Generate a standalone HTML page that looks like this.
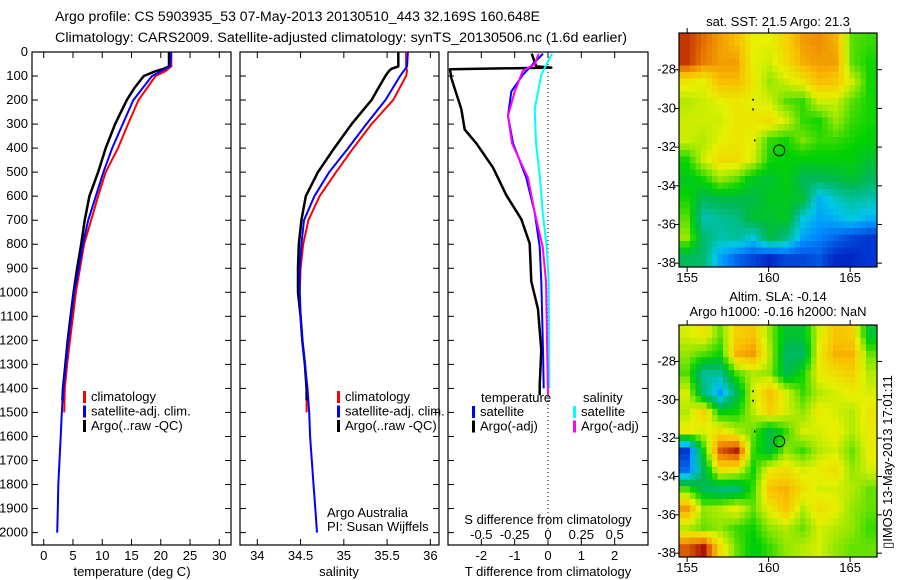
<!DOCTYPE html>
<html><head><meta charset="utf-8">
<style>
html,body{margin:0;padding:0;background:#fff;}
svg{display:block;font-family:"Liberation Sans",sans-serif;}
text{font-size:13px;fill:#000;}
</style></head>
<body>
<svg id="fig" width="900" height="580" viewBox="0 0 900 580">
<text x="55" y="21" textLength="485" lengthAdjust="spacingAndGlyphs" style="font-size:14.2px">Argo profile: CS 5903935_53 07-May-2013 20130510_443 32.169S 160.648E</text>
<text x="55" y="42" textLength="572" lengthAdjust="spacingAndGlyphs" style="font-size:14.2px">Climatology: CARS2009. Satellite-adjusted climatology: synTS_20130506.nc (1.6d earlier)</text>
<g id="g1"></g>
<g id="g2"></g>
<g id="g3"></g>
<g id="m1"></g>
<g id="m2"></g>
<text transform="translate(892,462) rotate(-90)" text-anchor="middle">▯IMOS 13-May-2013 17:01:11</text>
</svg>
<script>
// ---------- data ----------
const depthTicks=[0,100,200,300,400,500,600,700,800,900,1000,1100,1200,1300,1400,1500,1600,1700,1800,1900,2000];
const tempTicks=[0,5,10,15,20,25,30];
const salTicks=[34,34.5,35,35.5,36];
const salTickLabels=["34","34.5","35","35.5","36"];
const tdTicks=[-2,-1,0,1,2];
const sdTicks=[-0.5,-0.25,0,0.25,0.5];
const sdTickLabels=["-0.5","-0.25","0","0.25","0.5"];

const climDepth=[0,60,80,100,200,300,400,500,600,700,800,900,1000,1100,1200,1300,1400,1500];
const climTemp=[21.8,21.8,20.8,19.1,16.2,14.4,12.7,10.6,9.3,8.1,6.9,6.2,5.5,5.0,4.5,4.0,3.6,3.5];
const climSal=[35.72,35.72,35.73,35.72,35.57,35.32,35.11,34.91,34.72,34.59,34.53,34.50,34.49,34.50,34.52,34.55,34.57,34.57];

const satDepth=[0,60,100,200,300,400,500,600,700,800,900,1000,1100,1200,1300,1400,1500,1600,1700,1800,1900,2000];
const satTemp=[21.8,21.6,18.5,15.3,13.5,11.7,10.2,8.9,7.6,6.7,6.0,5.2,4.7,4.2,3.8,3.35,3.1,2.9,2.7,2.5,2.4,2.3];
const satSal=[35.74,35.73,35.65,35.48,35.26,35.05,34.83,34.66,34.54,34.51,34.49,34.49,34.50,34.52,34.55,34.58,34.60,34.61,34.63,34.65,34.67,34.69];

const argoDepth=[0,60,70,80,100,150,200,300,400,500,600,700,800,900,1000,1100,1200,1300,1400,1450];
const argoTemp=[21.4,21.4,20.5,19.1,17.1,15.5,14.2,12.2,10.6,9.3,7.8,7.0,6.4,5.7,5.1,4.6,4.1,3.7,3.3,3.2];
const argoSal=[35.63,35.63,35.55,35.52,35.48,35.40,35.32,35.09,34.89,34.70,34.56,34.51,34.48,34.47,34.47,34.50,34.52,34.55,34.57,34.57];

const tdArgoDepth=[7,60,65,72,108,237,323,380,481,596,696,797,955,1070,1241,1385,1428];
const tdArgo=[-0.49,-0.35,0.1,-2.94,-2.9,-2.6,-2.5,-2.15,-1.65,-1.25,-0.8,-0.55,-0.5,-0.3,-0.2,-0.25,-0.25];
const tdSatDepth=[7,50,94,165,266,380,524,668,811,955,1241,1400];
const tdSat=[-0.15,-0.45,-0.75,-1.1,-1.2,-1.05,-0.65,-0.4,-0.25,-0.2,-0.15,-0.13];
const sdSatDepth=[7,94,237,380,524,668,811,955,1400];
const sdSat=[0.03,-0.05,-0.1,-0.09,-0.06,-0.04,-0.01,0.005,0.01];
const sdArgoDepth=[7,50,79,165,266,380,524,668,811,955,1428];
const sdArgo=[-0.07,-0.1,-0.19,-0.25,-0.3,-0.27,-0.15,-0.1,-0.04,-0.015,0];

const sstGrid=[
[22.6,22.3,22.0,21.8,21.3,21.3,21.6,22.0,22.1,21.9,20.8,20.7],
[22.6,22.2,22.0,22.0,21.3,21.2,21.5,21.9,22.0,22.0,20.8,20.6],
[21.4,21.3,21.8,21.8,21.4,21.0,21.2,21.4,21.8,21.7,21.2,20.6],
[21.1,21.2,21.3,21.4,21.3,21.2,20.8,20.7,21.2,21.2,20.8,20.6],
[21.2,21.2,21.2,21.4,21.4,21.5,21.2,20.7,20.6,21.0,20.7,20.6],
[21.2,21.1,21.3,21.4,21.3,20.7,20.6,20.9,20.7,20.7,20.6,20.5],
[20.6,21.2,21.5,21.5,21.2,20.6,20.5,20.5,20.5,20.5,20.5,20.3],
[20.4,20.6,21.0,20.8,20.4,20.3,20.5,20.1,20.1,20.2,20.3,20.1],
[20.6,20.1,20.2,20.2,20.2,20.4,20.4,20.3,19.3,19.6,19.8,19.7],
[20.8,19.7,19.8,19.9,20.3,20.3,20.4,19.5,19.2,19.3,19.5,19.3],
[21.0,20.0,19.7,19.8,19.5,20.2,19.9,19.2,19.0,18.8,18.6,18.5],
[20.1,20.0,19.2,18.8,18.6,18.4,18.6,18.6,18.7,18.4,18.4,18.5]];
const slaGrid=[
[0.12,0.15,0.06,0.18,0.20,0.08,-0.02,-0.02,0.12,0.20,0.18,-0.02],
[0.08,0.05,0.02,0.22,0.24,0.10,-0.06,-0.06,0.14,0.22,0.22,0.06],
[0.05,-0.10,-0.10,0.05,0.10,0.08,-0.05,0.02,0.14,0.16,0.18,0.10],
[0.12,-0.08,-0.20,-0.05,0.12,0.20,0.12,0.04,0.10,0.12,0.14,0.12],
[0.10,0.18,0.00,0.02,0.10,0.18,0.12,0.08,0.14,0.12,0.10,0.15],
[0.14,0.12,0.16,0.10,0.06,-0.04,0.04,0.12,0.12,0.14,0.10,0.14],
[-0.30,0.02,0.30,0.35,0.04,-0.03,0.08,0.04,0.10,0.12,0.06,0.14],
[-0.25,-0.05,0.16,0.14,0.02,0.14,0.16,0.12,0.14,0.16,0.08,0.12],
[0.05,-0.05,-0.08,-0.08,0.04,0.20,0.22,0.16,0.12,0.12,0.10,0.06],
[0.24,0.08,0.10,0.14,0.06,0.14,0.20,0.10,0.16,0.14,0.08,0.06],
[0.10,0.06,0.08,0.04,0.02,0.08,0.10,0.06,0.12,0.10,0.08,0.04],
[0.30,0.36,0.16,0.06,0.00,0.04,0.08,0.10,0.12,0.08,0.06,0.06]];
const lonTicks=[155,160,165];
const latTicks=[-28,-30,-32,-34,-36,-38];
const argoPos=[160.65,-32.17];

// ---------- helpers ----------
const NS="http://www.w3.org/2000/svg";
function mk(parent,tag,attrs){const e=document.createElementNS(NS,tag);for(const k in attrs)e.setAttribute(k,attrs[k]);parent.appendChild(e);return e;}
function txt(parent,x,y,s,anchor){const t=mk(parent,'text',{x:x,y:y,'text-anchor':anchor||'middle'});t.textContent=s;return t;}

const top0=52,bot0=545;
const yD=d=>top0+d*0.2403;

function panel(g,x0,x1,xmin,xmax){
  const sx=v=>x0+(v-xmin)/(xmax-xmin)*(x1-x0);
  const r=mk(g,'rect',{x:x0,y:top0,width:x1-x0,height:bot0-top0,fill:'none',stroke:'#000','stroke-width':1.2});
  
  
  depthTicks.forEach(d=>{const y=yD(d);mk(g,'line',{x1:x0,x2:x0+6,y1:y,y2:y,stroke:'#000'});mk(g,'line',{x1:x1,x2:x1-6,y1:y,y2:y,stroke:'#000'});});
  return sx;
}
function series(g,sx,vals,deps,color,w,name){
  const p=deps.map((d,i)=>sx(vals[i]).toFixed(1)+','+yD(d).toFixed(1)).join(' ');
  const l=mk(g,'polyline',{points:p,fill:'none',stroke:color,'stroke-width':w,'stroke-linejoin':'round'});
  
  
}
function legend(g,x,y,items){
  items.forEach((it,i)=>{
    const yy=y+i*14.5;
    mk(g,'rect',{x:x,y:yy-6,width:3,height:12,fill:it[1]});
    const t=txt(g,x+8,yy+4,it[0],'start');
    
    
  });
}

// ---------- panel 1 ----------
const g1=document.getElementById('g1');
const sxT=panel(g1,32,231,-2,32);
depthTicks.forEach(d=>{txt(g1,28,yD(d)+4,String(d),'end');});
tempTicks.forEach(v=>{const x=sxT(v);mk(g1,'line',{x1:x,x2:x,y1:bot0,y2:bot0-6,stroke:'#000'});mk(g1,'line',{x1:x,x2:x,y1:top0,y2:top0+6,stroke:'#000'});txt(g1,x,560,String(v));});
txt(g1,132,576,'temperature (deg C)');
series(g1,sxT,climTemp,climDepth,'#f00',2,'temp-climatology-line');
series(g1,sxT,argoTemp,argoDepth,'#000',2.5,'temp-argo-line');
series(g1,sxT,satTemp,satDepth,'#00f',2,'temp-satellite-line');
legend(g1,83,397,[['climatology','#f00'],['satellite-adj. clim.','#00f'],['Argo(..raw -QC)','#000']]);

// ---------- panel 2 ----------
const g2=document.getElementById('g2');
const sxS=panel(g2,240,439,33.8,36.1);
salTicks.forEach((v,i)=>{const x=sxS(v);mk(g2,'line',{x1:x,x2:x,y1:bot0,y2:bot0-6,stroke:'#000'});mk(g2,'line',{x1:x,x2:x,y1:top0,y2:top0+6,stroke:'#000'});txt(g2,x,560,salTickLabels[i]);});
txt(g2,339,576,'salinity');
series(g2,sxS,climSal,climDepth,'#f00',2,'sal-climatology-line');
series(g2,sxS,argoSal,argoDepth,'#000',2.5,'sal-argo-line');
series(g2,sxS,satSal,satDepth,'#00f',2,'sal-satellite-line');
legend(g2,337,397,[['climatology','#f00'],['satellite-adj. clim.','#00f'],['Argo(..raw -QC)','#000']]);
txt(g2,327,517,'Argo Australia','start');
txt(g2,327,531,'PI: Susan Wijffels','start');

// ---------- panel 3 ----------
const g3=document.getElementById('g3');
const sxD=panel(g3,448,648,-3,3);
const sxSD=v=>sxD(v*4);
mk(g3,'line',{x1:sxD(0),x2:sxD(0),y1:top0,y2:bot0-14,stroke:'#000','stroke-dasharray':'1,3'});
tdTicks.forEach(v=>{const x=sxD(v);mk(g3,'line',{x1:x,x2:x,y1:bot0,y2:bot0-6,stroke:'#000'});mk(g3,'line',{x1:x,x2:x,y1:top0,y2:top0+6,stroke:'#000'});txt(g3,x,560,String(v));});
sdTicks.forEach((v,i)=>{txt(g3,sxSD(v),539,sdTickLabels[i]);});
txt(g3,548,524,'S difference from climatology');
txt(g3,548,576,'T difference from climatology');
series(g3,sxD,tdArgo,tdArgoDepth,'#000',2.5,'tdiff-argo-line');
series(g3,sxSD,sdSat,sdSatDepth,'#0ff',2,'sdiff-satellite-line');
series(g3,sxD,tdSat,tdSatDepth,'#00f',2,'tdiff-satellite-line');
series(g3,sxSD,sdArgo,sdArgoDepth,'#f0f',2,'sdiff-argo-line');
txt(g3,481,402,'temperature','start');
txt(g3,583,402,'salinity','start');
legend(g3,472,412,[['satellite','#00f'],['Argo(-adj)','#000']]);
legend(g3,573,412,[['satellite','#0ff'],['Argo(-adj)','#f0f']]);

// ---------- maps ----------
const cmapStops=[[0,0,0,120],[0.12,0,40,200],[0.25,0,140,255],[0.33,0,200,230],[0.40,0,190,150],[0.47,0,185,80],[0.55,0,210,0],[0.63,140,230,0],[0.70,230,240,0],[0.80,250,190,0],[0.90,230,110,0],[1,170,20,0]];
function cmap(t){t=Math.max(0,Math.min(1,t));
  for(let i=1;i<cmapStops.length;i++){const a=cmapStops[i-1],b=cmapStops[i];
    if(t<=b[0]){const f=(t-a[0])/(b[0]-a[0]);return 'rgb('+[1,2,3].map(k=>Math.round(a[k]+(b[k]-a[k])*f)).join(',')+')';}}
  return 'rgb(170,20,0)';}
function map(g,y0,y1,grid,tf,titles,ty){
  const x0=679,x1=877,lon0=154.5,lon1=166.65,lat0=-26.1,lat1=-38.2;
  const sx=v=>x0+(v-lon0)/(lon1-lon0)*(x1-x0);
  const sy=v=>y0+(v-lat0)/(lat1-lat0)*(y1-y0);
  const nr=grid.length,nc=grid[0].length,dlon=(lon1-lon0)/nc,dlat=(lat1-lat0)/nr;
  const S=3;
  const val=(fi,fj)=>{
    fi=Math.max(0,Math.min(nr-1,fi));fj=Math.max(0,Math.min(nc-1,fj));
    const i0=Math.floor(fi),j0=Math.floor(fj),i1=Math.min(nr-1,i0+1),j1=Math.min(nc-1,j0+1),a=fi-i0,b=fj-j0;
    return grid[i0][j0]*(1-a)*(1-b)+grid[i0][j1]*(1-a)*b+grid[i1][j0]*a*(1-b)+grid[i1][j1]*a*b;};
  for(let i=0;i<nr*S;i++)for(let j=0;j<nc*S;j++){
    const v=val((i+0.5)/S-0.5,(j+0.5)/S-0.5);
    const xa=sx(lon0+j*dlon/S),xb=sx(lon0+(j+1)*dlon/S),ya=sy(lat0+i*dlat/S),yb=sy(lat0+(i+1)*dlat/S);
    const r=mk(g,'rect',{x:xa.toFixed(2),y:ya.toFixed(2),width:(xb-xa+0.4).toFixed(2),height:(yb-ya+0.4).toFixed(2),fill:cmap(tf(v))});
    
    
  }
  mk(g,'rect',{x:x0,y:y0,width:x1-x0,height:y1-y0,fill:'none',stroke:'#000','stroke-width':1.2});
  lonTicks.forEach(v=>{const x=sx(v);mk(g,'line',{x1:x,x2:x,y1:y0,y2:y0-5,stroke:'#000'});mk(g,'line',{x1:x,x2:x,y1:y1,y2:y1+5,stroke:'#000'});txt(g,x,y1+15,String(v));});
  latTicks.forEach(v=>{const y=sy(v);mk(g,'line',{x1:x0,x2:x0-5,y1:y,y2:y,stroke:'#000'});mk(g,'line',{x1:x1,x2:x1+5,y1:y,y2:y,stroke:'#000'});txt(g,x0-3,y+4,String(v),'end');});
  const c=mk(g,'circle',{cx:sx(argoPos[0]),cy:sy(argoPos[1]),r:5.5,fill:'none',stroke:'#000','stroke-width':1});
  
  
  [[159.0,-29.5],[159.0,-30.0],[159.1,-31.6]].forEach(p=>mk(g,'rect',{x:sx(p[0]),y:sy(p[1]),width:1.5,height:2,fill:'#000'}));
  titles.forEach((s,i)=>txt(g,778,ty+i*15,s));
}
map(document.getElementById('m1'),33,267,sstGrid,v=>(v-17.8)/5,['sat. SST: 21.5 Argo: 21.3'],26);
map(document.getElementById('m2'),325,557,slaGrid,v=>0.53+v*1.3,['Altim. SLA: -0.14','Argo h1000: -0.16 h2000: NaN'],301);
</script>
</body></html>
